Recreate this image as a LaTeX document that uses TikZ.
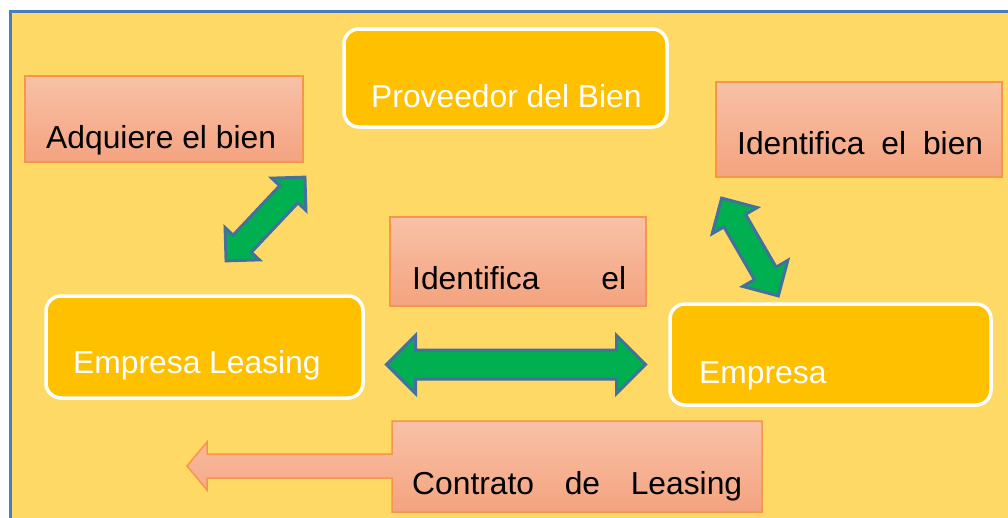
\documentclass[tikz,border=0pt]{standalone}
\usepackage{fontspec}
\setmainfont{Liberation Sans}
\usepackage{tikz}
\usetikzlibrary{shapes.arrows}

\definecolor{panelfill}{HTML}{FFD966}
\definecolor{panelline}{HTML}{4A7EBB}
\definecolor{goldfill}{HTML}{FFC000}
\definecolor{salmontop}{HTML}{F8C1A7}
\definecolor{salmonbot}{HTML}{F4A37F}
\definecolor{salmonline}{HTML}{F7964A}
\definecolor{arrowgreen}{HTML}{00B050}
\definecolor{arrowline}{HTML}{41719C}

\tikzset{
  salmonbox/.style={draw=salmonline, line width=1.5pt, top color=salmontop, bottom color=salmonbot, inner sep=0pt},
  goldbox/.style={draw=white, line width=3.5pt, fill=goldfill, rounded corners=15pt, inner sep=0pt},
  greenarrow/.style={double arrow, draw=arrowline, fill=arrowgreen, line width=3pt, inner xsep=0pt, double arrow tip angle=90},
  darktext/.style={anchor=base west, inner sep=0pt, text=black, font=\fontsize{31.8}{38}\selectfont},
  lighttext/.style={darktext, text=white}
}

\begin{document}
\begin{tikzpicture}[x=1pt, y=-1pt]
  \useasboundingbox (0,0) rectangle (1008,517);
  \fill[white] (0,0) rectangle (1008,517);
  \clip (0,0) rectangle (1008,517);
  \draw[fill=panelfill, draw=panelline, line width=2.5pt] (10.5,11.3) rectangle (1030,540);

  % boxes
  \node[salmonbox, minimum width=278, minimum height=86] (adq) at (164,119) {};
  \node[darktext] (adqtxt) at (46,148) {Adquiere el bien};

  \node[goldbox, minimum width=323, minimum height=98] (prov) at (505.5,78) {};
  \node[lighttext] (provtxt) at (371,107) {Proveedor del Bien};

  \node[salmonbox, minimum width=286, minimum height=95] (idbien) at (859,129.5) {};
  \node[darktext] (idbientxt) at (737,154) {\makebox[246pt][s]{Identifica el bien}};

  \node[salmonbox, minimum width=256, minimum height=89] (idel) at (518,261.5) {};
  \node[darktext] (ideltxt) at (412,289) {\makebox[214pt][s]{Identifica el}};

  \node[goldbox, minimum width=317, minimum height=102] (leasing) at (204.5,347) {};
  \node[lighttext] (leasingtxt) at (73,373) {Empresa Leasing};

  \node[goldbox, minimum width=321, minimum height=101] (empresa) at (830.5,354.5) {};
  \node[lighttext] (empresatxt) at (699,383) {Empresa};

  % callout with arrow to the left
  \draw[salmonbox] (392,421) -- (762,421) -- (762,512) -- (392,512) -- (392,478)
    -- (207,478) -- (207,490) -- (187,466) -- (207,442) -- (207,454) -- (392,454) -- cycle;
  \node[darktext] (contratotxt) at (412,494) {\makebox[330pt][s]{Contrato de Leasing}};

  % double arrows
  \node[greenarrow, rotate=46.7, minimum height=115, inner ysep=11pt, double arrow head extend=11pt] (arrA) at (265.5,219) {};
  \node[greenarrow, minimum height=259, inner ysep=13pt, double arrow head extend=14.5pt] (arrB) at (516,364.5) {};
  \node[greenarrow, rotate=-59.9, minimum height=113, inner ysep=11pt, double arrow head extend=13.5pt] (arrC) at (750,247) {};
\end{tikzpicture}
\end{document}
